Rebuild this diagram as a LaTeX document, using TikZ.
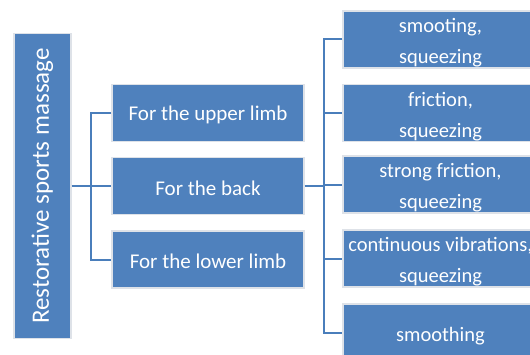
\documentclass[tikz,border=0pt]{standalone}
\usepackage{fontspec}
\setmainfont{Carlito}
\usepackage{tikz}
\usetikzlibrary{positioning}
\definecolor{boxblue}{RGB}{79,129,189}
\definecolor{lineblue}{RGB}{74,126,187}
\definecolor{rimgray}{RGB}{222,226,232}

\begin{document}
\begin{tikzpicture}[
x=1pt,y=1pt,
box/.style={rectangle,fill=boxblue,draw=rimgray,line width=1.2pt,text=white,align=center,inner sep=0pt},
midbox/.style={box,minimum width=192,minimum height=57,font=\fontsize{21}{25}\selectfont,
    text height=19pt},
leafbox/.style={box,minimum width=195,minimum height=57,font=\fontsize{20.5}{31}\selectfont,
    text height=#1},
leafbox/.default=52pt,
link/.style={draw=lineblue,line width=2pt},
scale=1]
    \useasboundingbox (0,0) rectangle (530,354);
    \clip (0,0) rectangle (530,354);

    % Draw root
    \node[box,rotate=90,minimum width=305,minimum height=57,font=\fontsize{25}{30}\selectfont]
        (root) at (42.5,168) {Restorative sports massage};

    % Draw middle column
    \node[midbox] (upper) at (208,241) {For the upper limb};
    \node[midbox] (back) at (208,168) {For the back};
    \node[midbox] (lower) at (208,94.5) {For the lower limb};

    % Draw right column
    \node[leafbox] (smooth) at (440.5,314.5) {smooting,\\squeezing};
    \node[leafbox] (frict) at (440.5,241) {friction,\\squeezing};
    \node[leafbox] (strong) at (440.5,169.5) {strong friction,\\squeezing};
    \node[leafbox] (vibr) at (440.5,95.5) {continuous vibrations,\\squeezing};
    \node[leafbox=21pt] (smoothing) at (440.5,21.5) {smoothing};

    \coordinate (forkA) at (91,168);
    \coordinate (forkB) at (324,168);

    % Draw connectors
    \draw[link] (root.south) -- (forkA);
    \draw[link] (upper.west) -| (forkA) |- (lower.west);
    \draw[link] (forkA) -- (back.west);

    \draw[link] (back.east) -- (forkB);
    \draw[link] (smooth.west) -| (forkB) |- (smoothing.west);
    \draw[link] (forkB |- frict) -- (frict.west);
    \draw[link] (forkB |- strong) -- (strong.west);
    \draw[link] (forkB |- vibr) -- (vibr.west);

\end{tikzpicture}
\end{document}
